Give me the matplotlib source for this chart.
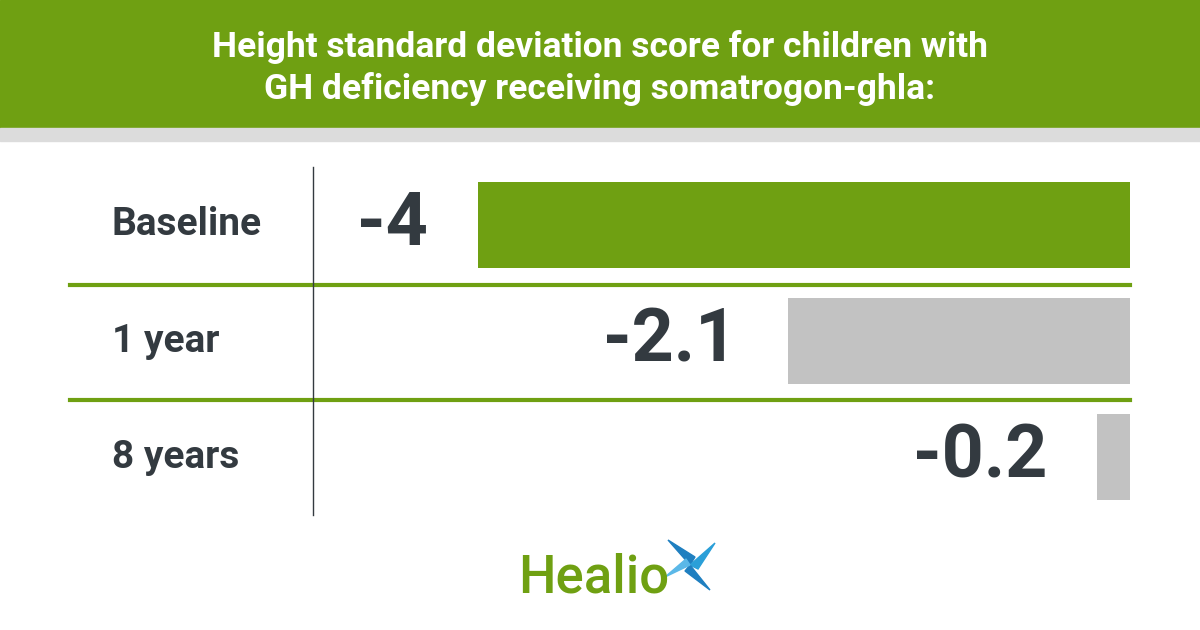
import matplotlib
matplotlib.use("Agg")
import matplotlib.pyplot as plt
from matplotlib.lines import Line2D
from matplotlib.patches import Rectangle, Polygon

categories = ["Baseline", "1 year", "8 years"]
values = [-4, -2.1, -0.2]
labels = ["-4", "-2.1", "-0.2"]
colors = ["#6fa012", "#c2c2c2", "#c2c2c2"]
title = "Height standard deviation score for children with\nGH deficiency receiving somatrogon-ghla:"

W, H = 1200, 630
fig = plt.figure(figsize=(12, 6.3), dpi=100)
fig.patch.set_facecolor("white")
green = "#6fa012"
dark = "#333a40"

def fx(px): return px / W
def fy(py): return 1 - py / H

# header
fig.patches.append(Rectangle((0, fy(128)), 1, 128 / H, transform=fig.transFigure, color=green, zorder=0))
fig.patches.append(Rectangle((0, fy(141)), 1, 13 / H, transform=fig.transFigure, color="#dcdcdc", zorder=0))
fig.text(0.5, fy(68), title, ha="center", va="center", color="white", fontsize=25.5,
         fontweight="bold", family="Roboto", linespacing=1.3)

# axes
ax = fig.add_axes([fx(313), fy(515), fx(1130) - fx(313), (515 - 167) / H])
ax.set_xlim(-5.012, 0)
ax.set_ylim(2.5, -0.5)
ax.axis("off")
ypos = list(range(len(categories)))
ax.barh(ypos, [-v for v in values], left=values, height=0.74, color=colors)
for y, v, lab in zip(ypos, values, labels):
    ax.annotate(lab, (v, y), xytext=(-36, 0), textcoords="offset points", ha="right",
                va="center", fontsize=53, fontweight="bold", color=dark, family="Roboto")
    fig.text(fx(112), ax.transData.transform((0, y))[1] / H, categories[y], ha="left",
             va="center", fontsize=28, fontweight="bold", color=dark, family="Roboto")

# separators
for py in (285, 400):
    fig.lines.append(Line2D([fx(70), fx(1130)], [fy(py), fy(py)], transform=fig.transFigure,
                            color=green, lw=3))
fig.lines.append(Line2D([fx(313), fx(313)], [fy(167), fy(515)], transform=fig.transFigure,
                        color=dark, lw=1))

# logo
fig.text(fx(594), fy(578), "Healio", ha="center", va="center", fontsize=38, color=green,
         family="Roboto", fontweight="medium")
cx, cy = fx(690), fy(565)
for pts, c in [([(0, 0), (-22, 25), (5, 8)], "#1f7fc0"),
               ([(0, 0), (25, 22), (8, -4)], "#2a9fd8"),
               ([(0, 0), (20, -25), (-5, -6)], "#1f7fc0"),
               ([(0, 0), (-25, -12), (-4, 6)], "#5bb8e8")]:
    fig.patches.append(Polygon([(cx + a / W, cy + b / H) for a, b in pts], closed=True,
                               transform=fig.transFigure, color=c))

fig.savefig("out.png", dpi=100)
